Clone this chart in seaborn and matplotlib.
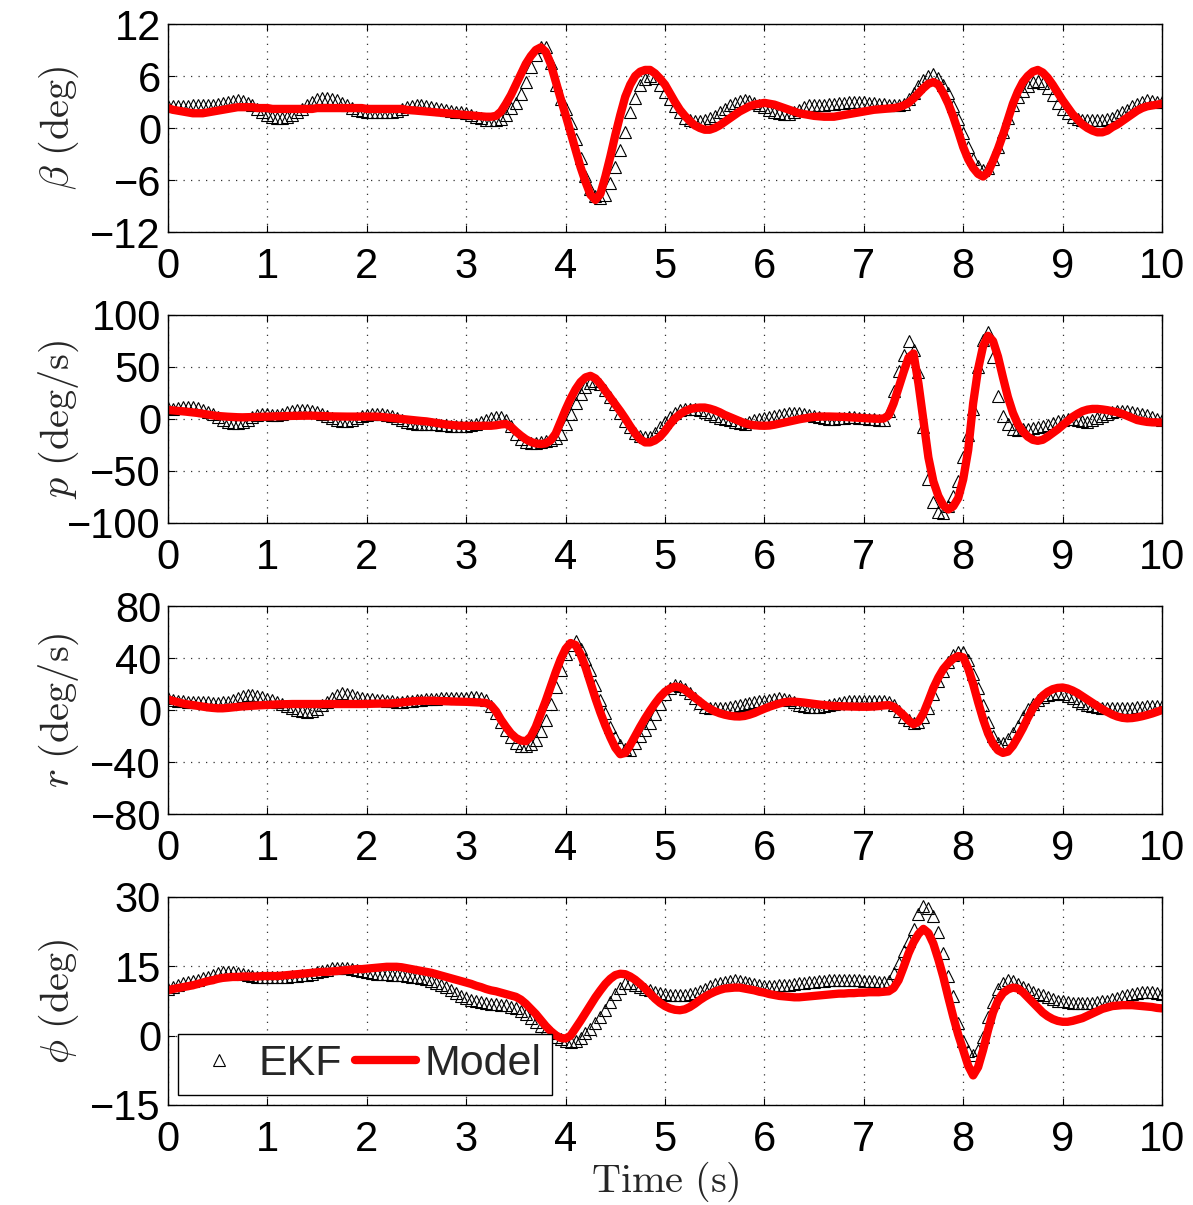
import numpy as np
import matplotlib
matplotlib.use("Agg")
import matplotlib.pyplot as plt
import seaborn as sns

# Sample instants (s), 20 Hz
time_s = np.round(np.arange(201) * 0.05, 2)

# Sideslip angle beta (deg)
beta_ekf = [
    2.5, 2.5, 2.5, 2.5, 2.5, 2.6, 2.6, 2.6, 2.6, 2.7,
    2.8, 2.9, 3.0, 3.1, 3.2, 3.1, 2.9, 2.6, 2.2, 1.8,
    1.5, 1.3, 1.2, 1.2, 1.3, 1.5, 1.8, 2.2, 2.6, 3.0,
    3.3, 3.5, 3.5, 3.4, 3.2, 2.9, 2.6, 2.3, 2.1, 2.0,
    1.9, 1.9, 1.8, 1.8, 1.9, 1.9, 2.0, 2.2, 2.4, 2.5,
    2.6, 2.6, 2.5, 2.4, 2.3, 2.2, 2.1, 2.0, 1.9, 1.8,
    1.7, 1.5, 1.3, 1.1, 0.9, 0.9, 0.9, 1.0, 1.5, 2.3,
    2.9, 3.9, 5.3, 7.0, 8.4, 9.4, 9.3, 7.5, 5.0, 3.3,
    2.2, 0.6, -1.3, -3.5, -5.5, -7.0, -7.9, -8.1, -7.7, -6.3,
    -4.5, -2.5, -0.5, 1.9, 3.5, 5.0, 5.7, 6.0, 5.8, 5.0,
    4.2, 3.3, 2.5, 1.8, 1.2, 0.9, 0.8, 0.8, 0.9, 1.1,
    1.4, 1.8, 2.2, 2.6, 2.9, 3.1, 3.2, 3.1, 2.9, 2.6,
    2.4, 2.1, 1.9, 1.7, 1.6, 1.6, 1.8, 2.1, 2.4, 2.6,
    2.7, 2.7, 2.7, 2.8, 2.8, 2.9, 2.9, 3.0, 3.0, 3.0,
    3.0, 2.9, 2.9, 2.8, 2.8, 2.7, 2.6, 2.6, 2.8, 3.3,
    4.0, 4.8, 5.5, 6.0, 6.2, 5.8, 5.0, 4.0, 2.5, 1.0,
    -0.6, -2.2, -3.6, -4.4, -4.8, -4.6, -3.6, -2.2, -0.5, 1.2,
    2.6, 3.6, 4.3, 4.9, 5.3, 5.4, 5.2, 4.6, 3.8, 2.9,
    2.2, 1.7, 1.3, 1.0, 0.9, 0.9, 0.9, 0.9, 0.9, 1.0,
    1.2, 1.5, 1.8, 2.1, 2.5, 2.8, 3.0, 3.2, 3.1, 3.0,
    3.0,
]
beta_model = [
    2.3, 2.1, 2.0, 1.9, 1.8, 1.7, 1.7, 1.7, 1.8, 1.9,
    2.0, 2.1, 2.2, 2.3, 2.4, 2.4, 2.4, 2.4, 2.3, 2.3,
    2.3, 2.2, 2.2, 2.2, 2.2, 2.2, 2.2, 2.2, 2.2, 2.2,
    2.3, 2.3, 2.3, 2.3, 2.3, 2.3, 2.3, 2.3, 2.3, 2.3,
    2.2, 2.2, 2.2, 2.2, 2.2, 2.2, 2.2, 2.2, 2.1, 2.05,
    2.0, 1.95, 1.9, 1.85, 1.8, 1.75, 1.7, 1.65, 1.6, 1.55,
    1.5, 1.45, 1.4, 1.35, 1.3, 1.3, 1.4, 1.9, 2.8, 3.8,
    5.0, 6.2, 7.4, 8.3, 9.0, 9.3, 8.8, 7.4, 5.4, 3.4,
    1.5, -0.5, -2.5, -4.5, -6.2, -7.7, -8.3, -7.6, -5.6, -3.3,
    -0.8, 1.5, 3.6, 5.0, 6.0, 6.5, 6.7, 6.7, 6.3, 5.7,
    5.0, 4.0, 3.0, 2.1, 1.4, 0.8, 0.3, 0.0, -0.2, -0.2,
    0.0, 0.3, 0.7, 1.1, 1.5, 1.9, 2.2, 2.5, 2.7, 2.8,
    2.9, 2.8, 2.7, 2.5, 2.3, 2.1, 1.9, 1.7, 1.6, 1.5,
    1.4, 1.35, 1.3, 1.3, 1.3, 1.4, 1.5, 1.6, 1.7, 1.8,
    1.9, 2.0, 2.1, 2.15, 2.2, 2.25, 2.3, 2.4, 2.6, 2.9,
    3.4, 4.0, 4.6, 5.1, 5.3, 5.0, 4.0, 2.8, 1.3, -0.4,
    -2.2, -3.6, -4.6, -5.3, -5.6, -5.1, -3.8, -2.4, -0.8, 1.0,
    2.8, 4.2, 5.3, 6.0, 6.5, 6.7, 6.4, 5.8, 5.0, 4.1,
    3.2, 2.4, 1.6, 1.0, 0.4, 0.0, -0.3, -0.5, -0.5, -0.3,
    0.1, 0.4, 0.8, 1.2, 1.6, 2.0, 2.3, 2.5, 2.6, 2.7,
    2.8,
]

# Roll rate p (deg/s)
p_ekf = [
    11, 10, 11, 12, 12, 12, 11, 9, 7, 5,
    2, -1, -3, -4, -4, -3, -1, 2, 4, 5,
    5, 4, 4, 5, 7, 8, 9, 9, 9, 8,
    7, 5, 3, 1, -1, -2, -2, -1, 1, 3,
    4, 5, 5, 5, 4, 3, 1, -1, -3, -4,
    -5, -5, -5, -5, -5, -6, -6, -7, -7, -7,
    -7, -6, -5, -3, -1, 1, 2, 2, -1, -7,
    -14, -19, -22, -23, -23, -22, -21, -20, -18, -14,
    -5, 5, 15, 24, 31, 35, 37, 34, 28, 21,
    14, 6, -2, -8, -13, -16, -17, -17, -13, -8,
    -3, 2, 6, 9, 10, 10, 10, 9, 7, 5,
    3, 1, 0, -1, -3, -4, -5, -3, -1, 0,
    1, 2, 3, 4, 5, 6, 6, 6, 5, 4,
    3, 2, 1, 0, 0, 1, 1, 2, 2, 1,
    1, 0, 0, -1, -1, 8, 27, 46, 62, 75,
    66, 45, -8, -58, -80, -89, -90, -84, -74, -60,
    -37, -15, 10, 50, 76, 84, 60, 22, 3, -5,
    -10, -11, -10, -10, -9, -8, -7, -6, -4, -2,
    -1, 0, 0, -1, -2, -3, -1, 1, 3, 5,
    7, 8, 8, 8, 7, 6, 5, 4, 2, 0,
    -1,
]
p_model = [
    8.7, 8.3, 7.9, 7.4, 6.9, 6.5, 5.8, 5.0, 4.2, 3.5,
    2.9, 2.5, 2.2, 1.9, 1.7, 1.6, 1.7, 1.9, 2.0, 2.2,
    2.3, 2.4, 2.6, 2.7, 2.9, 3.0, 3.1, 3.2, 3.2, 3.2,
    3.0, 2.8, 2.6, 2.5, 2.4, 2.3, 2.3, 2.3, 2.3, 2.3,
    2.3, 2.3, 2.3, 2.0, 1.5, 1.0, 0.4, 0.0, -0.5, -1.0,
    -1.5, -1.9, -2.3, -3.0, -3.8, -4.6, -5.3, -5.8, -6.2, -6.5,
    -6.6, -6.6, -6.6, -6.6, -6.5, -6.5, -6.0, -5.2, -4.8, -7.5,
    -12.0, -16.0, -19.5, -22.0, -23.5, -24.0, -23.5, -20.5, -14.0, -2.5,
    9.0, 19.5, 28.5, 35.5, 40.0, 41.5, 39.0, 33.5, 27.0, 20.5,
    14.0, 7.5, 0.5, -7.0, -14.0, -19.5, -22.5, -22.5, -20.5, -17.0,
    -11.5, -5.0, 0.5, 4.5, 7.5, 9.5, 10.5, 11.0, 11.0, 10.0,
    8.5, 6.5, 4.0, 2.0, 0.0, -2.0, -4.0, -5.3, -6.0, -6.4,
    -6.5, -6.3, -5.5, -4.5, -3.5, -2.4, -1.3, -0.3, 0.6, 1.4,
    2.0, 2.3, 2.4, 2.4, 2.3, 2.2, 2.0, 1.7, 1.4, 1.1,
    0.8, 0.6, 0.4, 0.2, 0.5, 3.5, 15.0, 30.0, 45.0, 59.0,
    63.0, 34.0, -1.5, -37.0, -60.0, -74.0, -83.0, -87.0, -84.0, -76.0,
    -58.0, -30.0, 15.0, 48.0, 70.0, 80.0, 75.0, 60.0, 40.0, 21.0,
    6.0, -5.0, -12.0, -17.0, -20.0, -21.0, -20.0, -17.0, -13.5, -10.0,
    -6.0, -2.0, 2.0, 5.0, 7.5, 9.0, 9.7, 9.7, 9.2, 8.5,
    7.5, 6.5, 5.0, 3.0, 1.0, -1.0, -2.0, -2.8, -3.2, -3.3,
    -3.4,
]

# Yaw rate r (deg/s)
r_ekf = [
    8.9, 8.0, 7.2, 6.7, 6.4, 6.4, 6.3, 6.0, 5.8, 5.6,
    5.6, 5.8, 6.4, 7.5, 9.0, 10.5, 11.3, 11.5, 11.0, 10.0,
    8.8, 7.5, 6.2, 4.6, 3.0, 1.5, 0.2, -0.8, -1.2, -0.5,
    1.0, 3.5, 6.5, 9.5, 11.8, 12.7, 12.5, 11.5, 10.2, 9.2,
    8.6, 8.2, 8.0, 7.6, 7.1, 6.7, 6.4, 6.4, 6.8, 7.3,
    7.6, 7.9, 8.2, 8.5, 8.7, 8.9, 8.9, 9.0, 9.2, 9.4,
    9.6, 9.7, 9.7, 9.0, 7.6, 3.0, -2.5, -9.0, -15.0, -20.5,
    -25.0, -27.5, -28.0, -26.5, -23.0, -16.0, -7.6, 5.0, 18.0, 31.0,
    43.0, 50.0, 53.0, 47.0, 39.0, 30.5, 19.0, 7.6, -2.5, -12.7,
    -21.0, -27.0, -30.0, -30.5, -25.5, -20.0, -15.0, -10.0, -3.0, 5.0,
    12.0, 17.0, 19.0, 18.5, 16.0, 12.7, 9.0, 5.5, 2.5, 1.5,
    1.3, 1.3, 1.7, 2.2, 2.7, 3.5, 4.4, 5.3, 6.1, 6.7,
    7.3, 7.9, 8.5, 8.9, 8.7, 7.5, 5.8, 4.0, 2.8, 2.4,
    2.4, 2.5, 3.0, 3.8, 4.8, 5.7, 6.4, 6.7, 6.9, 7.0,
    7.1, 7.1, 7.0, 6.8, 6.6, 6.4, 4.0, -1.0, -5.0, -8.0,
    -10.0, -9.0, -5.0, 1.5, 12.0, 22.0, 30.0, 37.0, 42.0, 45.0,
    45.0, 38.5, 28.0, 17.0, 4.0, -9.0, -20.0, -25.4, -25.0, -22.5,
    -18.0, -12.0, -5.5, 0.5, 4.5, 7.5, 9.7, 11.2, 12.3, 12.7,
    12.3, 11.0, 9.2, 7.3, 5.5, 4.0, 2.8, 2.0, 1.6, 1.3,
    1.2, 1.2, 1.2, 1.3, 1.6, 2.0, 2.5, 3.0, 3.2, 3.2,
    3.0,
]
r_model = [
    8.1, 7.0, 6.0, 5.0, 4.3, 3.8, 3.2, 2.6, 2.0, 1.6,
    1.3, 1.3, 1.6, 2.0, 2.4, 2.8, 3.0, 3.3, 3.5, 3.7,
    3.9, 4.1, 4.3, 4.4, 4.5, 4.6, 4.6, 4.6, 4.6, 4.6,
    4.6, 4.6, 4.6, 4.6, 4.6, 4.6, 4.6, 4.6, 4.6, 4.6,
    4.7, 4.8, 4.9, 5.0, 5.0, 5.1, 5.4, 5.8, 6.2, 6.6,
    6.9, 7.1, 7.1, 7.1, 7.0, 6.9, 6.8, 6.6, 6.5, 6.4,
    6.3, 6.1, 5.9, 5.7, 5.4, 3.5, -1.0, -7.5, -13.0, -18.0,
    -21.5, -23.5, -24.0, -20.5, -13.0, -3.0, 7.0, 18.0, 29.0, 39.0,
    47.0, 51.5, 50.0, 43.0, 33.0, 21.0, 9.0, -2.0, -12.0, -21.0,
    -29.0, -34.0, -33.0, -27.0, -20.0, -13.0, -6.5, -0.5, 5.0, 10.0,
    14.0, 16.5, 18.0, 17.5, 15.5, 12.5, 9.5, 6.5, 3.5, 1.0,
    -1.0, -2.5, -3.6, -4.4, -4.9, -5.0, -4.6, -3.6, -2.3, -0.6,
    1.0, 2.5, 3.8, 5.0, 6.0, 6.4, 6.4, 6.1, 5.7, 5.2,
    4.7, 4.2, 3.8, 3.4, 3.1, 3.0, 2.8, 2.7, 2.6, 2.5,
    2.5, 2.5, 2.7, 3.0, 3.5, 3.8, 2.5, -0.5, -4.0, -8.0,
    -11.0, -9.0, -2.5, 7.0, 17.0, 25.0, 31.5, 36.0, 39.5, 41.5,
    40.5, 32.0, 20.0, 6.0, -7.0, -18.0, -26.0, -31.0, -33.0, -32.0,
    -27.5, -21.0, -14.0, -6.0, 1.0, 6.5, 11.0, 14.0, 16.0, 17.0,
    17.3, 16.5, 15.0, 13.0, 10.5, 8.0, 5.5, 3.0, 0.5, -1.5,
    -3.5, -5.0, -6.0, -6.4, -6.2, -5.6, -4.8, -3.8, -2.7, -1.4,
    0.0,
]

# Roll angle phi (deg)
phi_ekf = [
    10.0, 10.5, 10.9, 11.3, 11.6, 11.9, 12.1, 12.4, 12.8, 13.2,
    13.5, 13.7, 13.8, 13.7, 13.5, 13.3, 13.1, 12.9, 12.8, 12.7,
    12.6, 12.6, 12.6, 12.7, 12.8, 12.9, 13.0, 13.1, 13.2, 13.4,
    13.7, 14.0, 14.3, 14.6, 14.7, 14.7, 14.6, 14.4, 14.2, 14.0,
    13.8, 13.6, 13.4, 13.3, 13.3, 13.2, 13.2, 13.1, 13.0, 12.8,
    12.6, 12.4, 12.2, 11.9, 11.5, 11.0, 10.5, 9.9, 9.2, 8.6,
    8.1, 7.7, 7.4, 7.2, 7.0, 6.9, 6.8, 6.7, 6.6, 6.3,
    5.9, 5.4, 4.7, 3.9, 3.0, 2.1, 1.2, 0.5, -0.2, -0.8,
    -1.2, -1.3, -1.2, -0.5, 0.5, 1.5, 2.7, 4.0, 5.5, 7.3,
    9.1, 10.4, 11.3, 11.3, 11.0, 10.6, 10.2, 9.8, 9.5, 9.3,
    9.1, 8.9, 8.8, 8.8, 8.9, 9.0, 9.3, 9.7, 10.2, 10.7,
    11.1, 11.4, 11.7, 11.9, 12.0, 11.9, 11.7, 11.4, 11.1, 10.9,
    10.8, 10.8, 10.8, 10.9, 10.9, 11.0, 11.1, 11.3, 11.4, 11.6,
    11.7, 11.8, 11.9, 12.0, 12.0, 12.0, 12.0, 12.0, 12.0, 12.0,
    11.9, 11.9, 11.8, 11.7, 11.6, 11.9, 13.5, 15.8, 18.4, 20.5,
    23.0, 26.3, 28.0, 27.6, 25.8, 22.5, 17.8, 13.0, 8.6, 2.7,
    -1.2, -3.3, -4.2, -3.1, -0.2, 4.1, 7.2, 10.0, 11.4, 12.0,
    11.8, 11.1, 10.5, 10.0, 9.5, 9.1, 8.7, 8.3, 7.9, 7.6,
    7.4, 7.2, 7.1, 7.0, 7.0, 7.0, 7.1, 7.2, 7.4, 7.6,
    7.9, 8.2, 8.5, 8.8, 9.0, 9.2, 9.4, 9.5, 9.4, 9.3,
    9.1,
]
phi_model = [
    9.8, 10.1, 10.3, 10.5, 10.7, 10.9, 11.2, 11.5, 11.8, 12.0,
    12.3, 12.5, 12.6, 12.7, 12.7, 12.8, 12.8, 12.8, 12.8, 12.9,
    12.9, 12.9, 12.9, 13.0, 13.1, 13.2, 13.3, 13.4, 13.5, 13.6,
    13.7, 13.8, 13.8, 13.9, 14.0, 14.1, 14.2, 14.3, 14.4, 14.4,
    14.5, 14.6, 14.7, 14.8, 14.9, 14.9, 14.9, 14.8, 14.6, 14.4,
    14.2, 14.0, 13.8, 13.6, 13.3, 13.0, 12.7, 12.4, 12.1, 11.8,
    11.5, 11.2, 10.8, 10.5, 10.1, 9.8, 9.6, 9.3, 9.0, 8.7,
    8.4, 7.8, 6.9, 5.8, 4.7, 3.4, 2.1, 1.0, 0.1, -0.5,
    -0.6, 0.0, 1.6, 3.2, 4.9, 6.6, 8.3, 9.8, 11.2, 12.3,
    13.1, 13.4, 13.3, 12.8, 12.1, 11.2, 10.2, 9.1, 8.0, 7.1,
    6.4, 5.9, 5.6, 5.5, 5.7, 6.2, 6.9, 7.7, 8.4, 9.0,
    9.5, 9.9, 10.2, 10.3, 10.4, 10.4, 10.2, 10.0, 9.8, 9.5,
    9.3, 9.0, 8.8, 8.6, 8.5, 8.4, 8.3, 8.3, 8.4, 8.5,
    8.6, 8.7, 8.8, 8.9, 9.0, 9.1, 9.1, 9.2, 9.2, 9.3,
    9.3, 9.4, 9.4, 9.4, 9.5, 9.6, 10.3, 12.0, 14.8, 17.8,
    20.2, 22.0, 23.1, 22.2, 19.9, 16.5, 12.7, 8.3, 4.1, 0.2,
    -3.1, -6.5, -8.6, -6.8, -3.1, 1.2, 5.0, 7.6, 9.2, 10.0,
    10.4, 10.2, 9.4, 8.3, 7.2, 6.1, 5.0, 4.2, 3.6, 3.2,
    3.0, 3.0, 3.2, 3.5, 3.8, 4.3, 4.8, 5.3, 5.8, 6.1,
    6.4, 6.5, 6.6, 6.6, 6.6, 6.5, 6.4, 6.3, 6.2, 6.0,
    5.9,
]

panel_labels = [r"$\beta\ (\mathrm{deg})$", r"$p\ (\mathrm{deg/s})$",
                r"$r\ (\mathrm{deg/s})$", r"$\phi\ (\mathrm{deg})$"]
panel_ylims = [(-12, 12), (-100, 100), (-80, 80), (-15, 30)]
panel_yticks = [[-12, -6, 0, 6, 12], [-100, -50, 0, 50, 100],
                [-80, -40, 0, 40, 80], [-15, 0, 15, 30]]
x_ticks = list(range(11))
series = [(beta_ekf, beta_model), (p_ekf, p_model),
          (r_ekf, r_model), (phi_ekf, phi_model)]

sns.set_style("ticks")
plt.rcParams["font.family"] = ["Liberation Sans", "DejaVu Sans"]
plt.rcParams["mathtext.fontset"] = "cm"
plt.rcParams["axes.unicode_minus"] = True

W, H = 1193, 1205
fig = plt.figure(figsize=(W / 100, H / 100), dpi=100)

ax_left, ax_right = 168, 1162
panel_px = [(24, 232), (315, 523), (606, 814), (897, 1105)]

axes = []
for i, ((top, bot), (ekf, model)) in enumerate(zip(panel_px, series)):
    ax = fig.add_axes([ax_left / W, 1 - bot / H,
                       (ax_right - ax_left) / W, (bot - top) / H])
    sns.lineplot(x=time_s, y=ekf, ax=ax, color="k", linestyle="none",
                 marker="^", markersize=8.5, markerfacecolor="none",
                 markeredgecolor="k", markeredgewidth=0.8, legend=False)
    sns.lineplot(x=time_s, y=model, ax=ax, color="red", linewidth=6,
                 legend=False)
    ax.set_xlim(0, 10)
    ax.set_ylim(*panel_ylims[i])
    ax.set_xticks(x_ticks)
    ax.set_yticks(panel_yticks[i])
    ax.set_axisbelow(True)
    ax.grid(True, color="0.2", linestyle=(0, (1, 5)), linewidth=0.9)
    for s in ax.spines.values():
        s.set_visible(True)
        s.set_color("k")
        s.set_linewidth(1.0)
    ax.tick_params(direction="in", length=5, width=0.8, top=True, right=True,
                   labelsize=30, colors="k")
    ax.tick_params(axis="x", pad=11)
    ax.tick_params(axis="y", pad=5)
    ax.set_xlabel("")
    ax.set_ylabel(panel_labels[i], fontsize=29)
    ax.yaxis.set_label_coords(-0.088, 0.5)
    axes.append(ax)

axes[-1].set_xlabel(r"$\mathrm{Time\ (s)}$", fontsize=29)
axes[-1].xaxis.set_label_coords(0.5, -0.265)

lines = axes[-1].get_lines()
leg = axes[-1].legend(handles=[lines[0], lines[1]], labels=["EKF", "Model"],
                      loc="lower left", ncol=2, fontsize=31, numpoints=1,
                      frameon=True, fancybox=False, framealpha=1,
                      edgecolor="k", handlelength=1.42, handletextpad=0.2,
                      columnspacing=0.3, borderpad=0.24, borderaxespad=0.24)
leg.get_frame().set_linewidth(1.0)

fig.savefig("out.png", dpi=100, facecolor="white")
